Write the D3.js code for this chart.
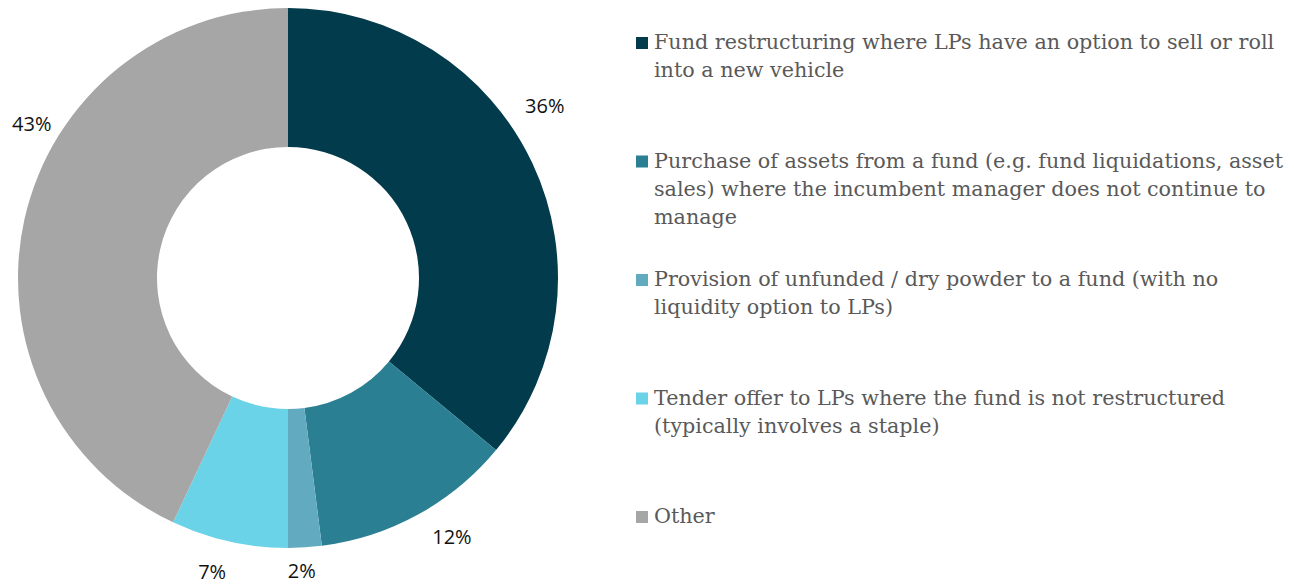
<!DOCTYPE html>
<html>
<head>
<meta charset="utf-8">
<script src="https://cdn.jsdelivr.net/npm/d3@7"></script>
<style>
  body { margin: 0; background: #fff; }
</style>
</head>
<body>
<svg id="chart" width="1294" height="584"></svg>
<script>
// data
var categories = [
  "Fund restructuring where LPs have an option to sell or roll into a new vehicle",
  "Purchase of assets from a fund (e.g. fund liquidations, asset sales) where the incumbent manager does not continue to manage",
  "Provision of unfunded / dry powder to a fund (with no liquidity option to LPs)",
  "Tender offer to LPs where the fund is not restructured (typically involves a staple)",
  "Other"
];
var legendLines = [
  ["Fund restructuring where LPs have an option to sell or roll", "into a new vehicle"],
  ["Purchase of assets from a fund (e.g. fund liquidations, asset", "sales) where the incumbent manager does not continue to", "manage"],
  ["Provision of unfunded / dry powder to a fund (with no", "liquidity option to LPs)"],
  ["Tender offer to LPs where the fund is not restructured", "(typically involves a staple)"],
  ["Other"]
];
var shares = [36, 12, 2, 7, 43];
var colors = ["#023b4b", "#2a8092", "#62aac0", "#6ad3e8", "#a6a6a6"];

var svg = d3.select("#chart");

var cx = 288, cy = 278,
    outerR = 270, innerR = 131, labelR = 300;

// labels were dragged by hand in the original: angle (deg) and radius tweaks
var labelNudge = [
  {da: -8.6, dr: 9},
  {da: -3.6, dr: 6},
  {da: 0.9, dr: -7},
  {da: 1.9, dr: 3},
  {da: 18.4, dr: -1}
];

var pie = d3.pie().sort(null).value(function(d){ return d; });
var arcs = pie(shares);

var arc = d3.arc().innerRadius(innerR).outerRadius(outerR);

var g = svg.append("g")
    .attr("transform", "translate(" + cx + "," + cy + ")");

g.selectAll("path.slice")
  .data(arcs)
  .enter()
  .append("path")
  .attr("class", "slice")
  .attr("d", arc)
  .attr("fill", function(d, i){ return colors[i]; });

function labelPos(d, i){
  var a = (d.startAngle + d.endAngle) / 2 + labelNudge[i].da * Math.PI / 180;
  var r = labelR + labelNudge[i].dr;
  return [r * Math.sin(a), -r * Math.cos(a)];
}

g.selectAll("text.lbl")
  .data(arcs)
  .enter()
  .append("text")
  .attr("class", "lbl")
  .attr("x", function(d, i){ return labelPos(d, i)[0]; })
  .attr("y", function(d, i){ return labelPos(d, i)[1]; })
  .attr("dy", "0.36em")
  .attr("text-anchor", "middle")
  .attr("font-family", "Open Sans, Liberation Sans, sans-serif")
  .attr("font-size", "20px")
  .attr("fill", "#111")
  .text(function(d){ return d.data + "%"; });

// legend
var legendX = 636, legendY0 = 49, legendStep = 118.5, lineH = 28;

var legend = svg.append("g");

var items = legend.selectAll("g.item")
  .data(categories)
  .enter()
  .append("g")
  .attr("class", "item")
  .attr("transform", function(d, i){
    return "translate(" + legendX + "," + (legendY0 + i * legendStep) + ")";
  });

items.append("rect")
  .attr("x", 0)
  .attr("y", -12)
  .attr("width", 12)
  .attr("height", 12)
  .attr("fill", function(d, i){ return colors[i]; });

items.append("text")
  .attr("x", 18)
  .attr("y", 0)
  .attr("font-family", "DejaVu Serif, serif")
  .attr("font-size", "20.7px")
  .attr("fill", "#595959")
  .selectAll("tspan")
  .data(function(d, i){ return legendLines[i]; })
  .enter()
  .append("tspan")
  .attr("x", 18)
  .attr("dy", function(d, j){ return j === 0 ? 0 : lineH; })
  .text(function(d){ return d; });
</script>
</body>
</html>
